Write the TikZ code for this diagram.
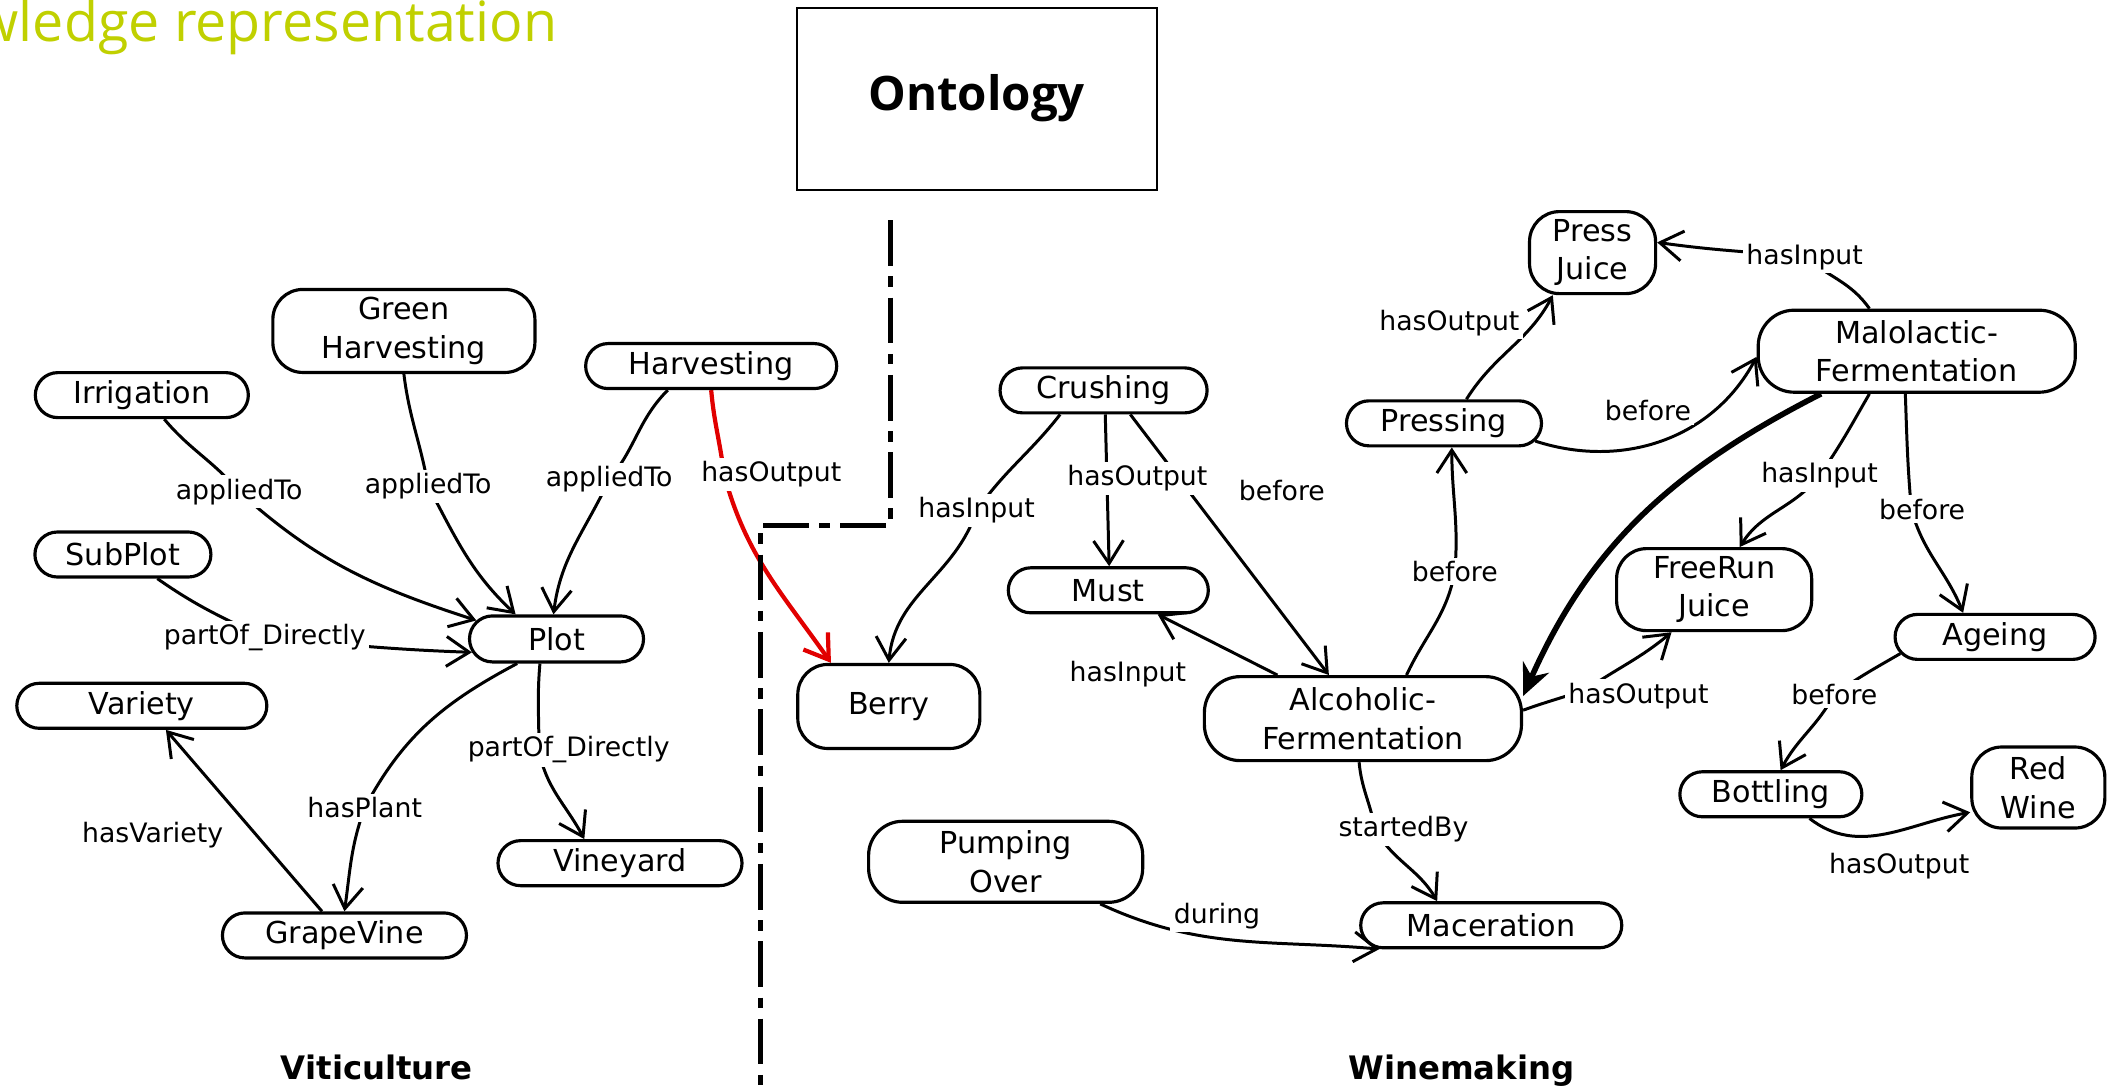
\documentclass[tikz,border=0pt]{standalone}
\usepackage{fontspec}
\setmainfont{DejaVu Sans}
\newfontfamily\slidefont{Open Sans}
\usetikzlibrary{arrows.meta,shapes.misc,calc}
\definecolor{titlegreen}{RGB}{192,208,0}
\definecolor{edgered}{RGB}{225,0,0}
\pgfdeclarelayer{edgelayer}
\pgfsetlayers{edgelayer,main}

\tikzset{
  concept/.style={draw, line width=0.9pt, rounded rectangle, minimum height=0.45cm,
    inner sep=1pt, font=\fontsize{8.6}{11}\selectfont},
  concepttwo/.style={draw, line width=0.9pt, rectangle, rounded corners=0.3cm,
    align=center, inner sep=1pt, font=\fontsize{8.6}{11}\selectfont},
  rel/.style={font=\fontsize{7.6}{9}\selectfont, fill=white, inner sep=1pt},
  link/.style={line width=0.85pt, line join=round,
    -{Straight Barb[length=6.5pt,width=8.5pt]}},
  redlink/.style={link, draw=edgered, line width=1.2pt},
  strong/.style={line width=1.6pt, -{Stealth[length=9pt,width=8pt]}},
  divider/.style={line width=1.4pt, dash pattern=on 13pt off 3pt on 3pt off 3pt},
  section/.style={font=\bfseries\fontsize{9.2}{11}\selectfont, inner sep=0pt}
}

\begin{document}
\begin{tikzpicture}[x=0.013508cm, y=0.013508cm]
\useasboundingbox (0,0) rectangle (1568,-808);
\clip (0,0) rectangle (1568,-808);

% slide heading and ontology box
\node[anchor=base east, text=titlegreen, inner sep=0pt,
  font=\slidefont\fontsize{15.8}{18}\selectfont] (heading) at (413,-30.4) {Knowledge representation};
\node[draw, line width=0.6pt, minimum width=3.6cm, minimum height=1.82cm,
  font=\slidefont\bfseries\fontsize{13.5}{16}\selectfont] (onto) at (723,-73) {Ontology};

% boundary between the two domains
\draw[divider] (659,-163) -- (659,-389) -- (563,-389) -- (563,-808);

% viticulture concepts
\node[concept, minimum width=2.20cm] (irr) at (105,-292.5) {Irrigation};
\node[concepttwo, minimum width=2.62cm, minimum height=0.83cm] (gh) at (299,-245) {Green\\Harvesting};
\node[concept, minimum width=2.58cm] (harv) at (526.5,-271) {Harvesting};
\node[concept, minimum width=1.83cm] (sub) at (91,-410.5) {SubPlot};
\node[concept, minimum width=1.81cm, minimum height=0.46cm] (plot) at (412,-473) {Plot};
\node[concept, minimum width=2.57cm] (var) at (105,-522.5) {Variety};
\node[concept, minimum width=2.51cm] (vine) at (459,-639) {Vineyard};
\node[concept, minimum width=2.51cm] (gv) at (255,-692.5) {GrapeVine};
\node[concepttwo, minimum width=1.82cm, minimum height=0.84cm] (berry) at (658,-523) {Berry};

% winemaking concepts
\node[concept, minimum width=2.14cm] (crush) at (817,-289) {Crushing};
\node[concept, minimum width=2.07cm] (must) at (820.5,-437) {Must};
\node[concepttwo, minimum width=3.17cm, minimum height=0.84cm, rounded corners=0.36cm] (alc) at (1009,-532) {Alcoholic-\\Fermentation};
\node[concepttwo, minimum width=2.74cm, minimum height=0.81cm, rounded corners=0.34cm] (pump) at (744.5,-638) {Pumping\\Over};
\node[concept, minimum width=2.68cm] (mac) at (1104,-685) {Maceration};
\node[concept, minimum width=2.02cm] (press) at (1069,-313.4) {Pressing};
\node[concepttwo, minimum width=1.26cm, minimum height=0.82cm] (pj) at (1179,-187) {Press\\Juice};
\node[concepttwo, minimum width=3.17cm, minimum height=0.82cm, rounded corners=0.36cm] (malo) at (1419,-260) {Malolactic-\\Fermentation};
\node[concepttwo, minimum width=1.95cm, minimum height=0.82cm] (frj) at (1269,-436.5) {FreeRun\\Juice};
\node[concept, minimum width=2.07cm] (age) at (1477,-471.5) {Ageing};
\node[concept, minimum width=1.89cm] (bott) at (1311,-588) {Bottling};
\node[concepttwo, minimum width=1.33cm, minimum height=0.81cm] (rw) at (1509,-583) {Red\\Wine};

% relation labels
\node[rel] (l1) at (177,-364) {appliedTo};
\node[rel] (l2) at (317,-360) {appliedTo};
\node[rel] (l3) at (451,-355) {appliedTo};
\node[rel] (l4) at (571,-351) {hasOutput};
\node[rel] (l5) at (196,-472) {partOf\_Directly};
\node[rel] (l6) at (270,-598) {hasPlant};
\node[rel] (l7) at (421,-555) {partOf\_Directly};
\node[rel] (l8) at (113,-618) {hasVariety};
\node[rel] (l9) at (723,-378) {hasInput};
\node[rel] (l10) at (842,-354) {hasOutput};
\node[rel] (l11) at (949,-363) {before};
\node[rel] (l12) at (835,-499) {hasInput};
\node[rel] (l13) at (1077,-423) {before};
\node[rel] (l14) at (1039,-614) {startedBy};
\node[rel] (l15) at (901,-678) {during};
\node[rel] (l16) at (1073,-239) {hasOutput};
\node[rel] (l17) at (1336,-190) {hasInput};
\node[rel] (l18) at (1220,-304) {before};
\node[rel] (l20) at (1213,-515) {hasOutput};
\node[rel] (l21) at (1347,-352) {hasInput};
\node[rel] (l22) at (1423,-377) {before};
\node[rel] (l23) at (1358,-514) {before};
\node[rel] (l24) at (1406,-641) {hasOutput};

% domain titles
\node[section, anchor=base] (viti) at (279,-799) {Viticulture};
\node[section, anchor=base] (wine) at (1082,-799) {Winemaking};

\begin{pgfonlayer}{edgelayer}
% viticulture relations
\draw[link] (irr.-47) to[out=-50,in=130] (l1.center) to[out=-42,in=162] (plot.167);
\draw[link] (gh.-90) to[out=-83,in=100] (l2.center) to[out=-62,in=137] (plot.149);
\draw[link] (harv.-151) to[out=-135,in=50] (l3.center) to[out=-115,in=83] (plot.97);
\draw[link] (sub.-35) to[out=-35,in=155] (l5.center) to[out=-5,in=178] (plot.-171);
\draw[link] (plot.-148) to[out=-152,in=62] (l6.center) to[out=-110,in=82] (gv.90);
\draw[link] (plot.-124) to[out=-95,in=90] ($(l7.center)+(-22,0)$) to[out=-80,in=118] (vine.146);
\draw[link] (gv.133) -- (var.-45);
\draw[redlink] (harv.-90) to[out=-85,in=97] ($(l4.center)+(-35,0)$) to[out=-75,in=125] (berry.143);

% winemaking relations
\draw[link] (crush.-151) to[out=-128,in=55] (l9.center) to[out=-108,in=85] (berry.90);
\draw[link] (crush.-86) -- (must.88);
\draw[link] (crush.-42) -- (alc.128);
\draw[link] (alc.153) -- (must.-26);
\draw[link] (alc.45) to[out=65,in=-100] (l13.center) to[out=85,in=-90] (press.-72);
\draw[link] (alc.-95) to[out=-85,in=100] ($(l14.center)+(-21,0)$) to[out=-60,in=120] (mac.156);
\draw[link] (pump.-24) to[out=-25,in=175] (mac.-168);
\draw[link] (press.47) to[out=58,in=-118] (pj.-133);
\draw[link] (malo.138) to[out=125,in=-40] (l17.center) to[out=175,in=-8] (pj.9);
\draw[link] (press.-11) to[out=-18,in=-118] (malo.182);
\draw[strong] (malo.-156) to[out=-153,in=66] (alc.8);
\draw[link] (alc.3) to[out=20,in=-160] ($(l20.center)+(-38,5)$) to[out=34,in=-140] (frj.-135);
\draw[link] (malo.-138) to[out=-120,in=55] (l21.center) to[out=-128,in=58] (frj.59);
\draw[link] (malo.-105) to[out=-88,in=95] ($(l22.center)+(-8,0)$) to[out=-75,in=112] (age.143);
\draw[link] (age.190) to[out=-150,in=35] (l23.center) to[out=-118,in=62] (bott.68);
\draw[link] (bott.-32) to[out=-38,in=190] (rw.-160);
\end{pgfonlayer}
\end{tikzpicture}
\end{document}
